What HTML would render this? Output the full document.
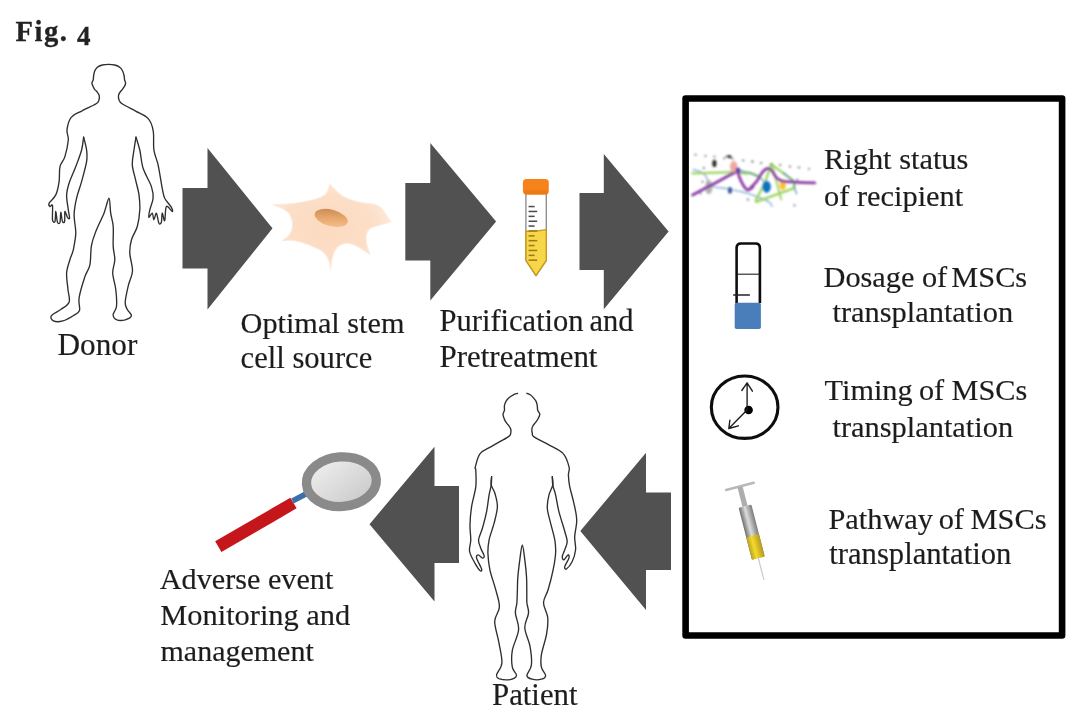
<!DOCTYPE html>
<html lang="en">
<head>
<meta charset="utf-8">
<title>Fig. 4</title>
<style>
html,body{margin:0;padding:0;background:#fff;}
body{width:1080px;height:722px;overflow:hidden;font-family:"Liberation Serif","DejaVu Serif",serif;}
svg{display:block;}
</style>
</head>
<body>
<svg width="1080" height="722" viewBox="0 0 1080 722">
<defs>
<radialGradient id="cellg" cx="45%" cy="50%" r="58%"><stop offset="0" stop-color="#fcdabf"/><stop offset="0.65" stop-color="#fcdec7"/><stop offset="1" stop-color="#fde9da"/></radialGradient>
<linearGradient id="nucg" x1="0.2" y1="0" x2="0.7" y2="1"><stop offset="0" stop-color="#c88a52"/><stop offset="0.55" stop-color="#e8a86e"/><stop offset="1" stop-color="#f5bd8c"/></linearGradient>
<linearGradient id="lensg" x1="0" y1="0" x2="1" y2="1"><stop offset="0" stop-color="#f4f4f4"/><stop offset="1" stop-color="#c4c4c4"/></linearGradient>
<linearGradient id="barg" x1="0" y1="0" x2="1" y2="0"><stop offset="0" stop-color="#6e6e6e"/><stop offset="0.45" stop-color="#dcdcdc"/><stop offset="1" stop-color="#7a7a7a"/></linearGradient>
<linearGradient id="yelg" x1="0" y1="0" x2="1" y2="0"><stop offset="0" stop-color="#b9a225"/><stop offset="0.4" stop-color="#f6da2e"/><stop offset="1" stop-color="#b39a1e"/></linearGradient>
<filter id="soft2" x="-10%" y="-20%" width="120%" height="140%"><feGaussianBlur stdDeviation="0.8"/></filter>
<filter id="soft" x="-5%" y="-5%" width="110%" height="110%"><feGaussianBlur stdDeviation="0.75"/></filter>
</defs>
<rect width="1080" height="722" fill="#ffffff"/>
<g filter="url(#soft)">
<text x="15.6" y="41.2" font-family="'Liberation Serif', 'DejaVu Serif', serif" font-weight="700" font-size="28.6" letter-spacing="1.5" fill="#222" stroke="#222" stroke-width="0.3">Fig. <tspan dy="3.6" font-size="27">4</tspan></text>
<polygon fill="#515151" points="182.5,188 207.5,188 207.5,148 272.5,228.3 207.5,309.5 207.5,268.5 182.5,268.5"/>
<polygon fill="#515151" points="405.3,183 430.3,183 430.3,143 496.1,221.5 430.3,300.5 430.3,260.5 405.3,260.5"/>
<polygon fill="#515151" points="579.5,193 603.8,193 603.8,154 668.6,231.4 603.8,309.2 603.8,270 579.5,270"/>
<polygon fill="#515151" points="369.5,524.2 434.5,446.8 434.5,486 459,486 459,563 434.5,563 434.5,601.6"/>
<polygon fill="#515151" points="580.3,531 646,452.8 646,492.6 671,492.6 671,570 646,570 646,610"/>
<path fill="none" stroke="#2e2e2e" stroke-width="1.35" stroke-linejoin="round" stroke-linecap="round" d="M83.6 137.1C83.3 139.2 82.9 145.1 81.6 150.0C80.3 154.9 77.8 161.1 75.8 166.6C73.7 172.2 70.6 178.5 69.1 183.2C67.6 188.0 66.7 190.4 66.6 194.9C66.5 199.3 67.8 206.0 68.3 209.8C68.8 213.7 69.7 216.9 69.6 218.2C69.5 219.4 68.2 218.4 67.4 217.3C66.7 216.2 65.4 210.8 64.9 211.5C64.5 212.2 65.0 219.8 64.6 221.5C64.2 223.2 63.1 223.0 62.5 221.5C61.8 220.0 61.2 212.2 60.8 212.3C60.4 212.5 60.5 220.7 60.0 222.3C59.4 224.0 58.2 224.1 57.5 222.3C56.8 220.5 56.2 211.7 55.8 211.5C55.4 211.4 55.5 220.1 55.0 221.5C54.4 222.9 52.9 222.5 52.5 219.8C52.1 217.2 52.9 207.9 52.5 205.7C52.1 203.5 50.5 206.9 50.0 206.5C49.4 206.1 48.2 205.1 49.1 203.2C50.1 201.3 54.1 198.5 55.8 194.9C57.5 191.3 58.4 186.3 59.1 181.6C59.8 176.9 59.0 170.8 60.0 166.6C60.9 162.5 63.6 161.1 64.9 156.6C66.3 152.2 67.9 144.5 68.3 140.0C68.6 135.5 66.5 133.6 67.0 129.8C67.5 126.0 68.7 120.4 71.2 117.3C73.6 114.2 77.4 113.3 81.6 111.1C85.7 108.8 93.2 105.7 96.1 103.8C99.0 101.9 98.5 101.1 99.0 99.7C99.5 98.3 99.5 96.8 99.2 95.5C98.9 94.2 97.9 93.0 97.1 92.0C96.4 90.9 95.3 90.3 94.6 89.3C94.0 88.3 93.4 87.2 93.0 86.2C92.5 85.1 91.9 84.1 91.9 83.0C92.0 82.0 92.9 81.1 93.2 79.9C93.5 78.7 93.4 77.2 93.6 75.8C93.8 74.3 94.1 72.6 94.6 71.2C95.2 69.8 95.9 68.5 97.1 67.5C98.4 66.4 100.4 65.5 102.3 65.0C104.2 64.5 106.5 64.3 108.6 64.3C110.6 64.3 112.9 64.5 114.8 65.0C116.7 65.5 118.7 66.4 120.0 67.5C121.3 68.5 122.0 69.8 122.7 71.2C123.4 72.6 123.8 74.3 124.1 75.8C124.5 77.2 124.3 78.7 124.6 79.9C124.8 81.1 125.6 82.0 125.6 83.0C125.6 84.1 125.1 85.1 124.6 86.2C124.0 87.2 123.2 88.3 122.5 89.3C121.8 90.3 120.9 90.9 120.2 92.0C119.5 93.0 118.7 94.2 118.5 95.5C118.3 96.8 118.4 98.3 119.0 99.7C119.5 101.1 119.3 101.9 122.1 103.8C124.8 105.7 131.2 108.7 135.6 111.1C139.9 113.5 145.1 115.1 148.0 118.4C151.0 121.7 152.3 125.6 153.2 130.8C154.2 136.1 153.1 144.3 153.9 150.0C154.7 155.7 156.7 158.6 158.1 164.9C159.5 171.3 161.1 182.7 162.2 188.2C163.3 193.8 163.2 195.0 164.7 198.2C166.3 201.4 170.1 205.1 171.4 207.4C172.6 209.6 173.0 211.7 172.2 211.5C171.4 211.4 167.6 205.0 166.4 206.5C165.1 208.0 165.4 219.5 164.7 220.7C164.0 221.8 162.8 212.9 162.2 213.2C161.7 213.5 162.0 220.7 161.4 222.3C160.8 224.0 159.7 224.7 158.9 223.2C158.1 221.6 157.2 213.7 156.4 213.2C155.6 212.6 154.6 219.8 153.9 219.8C153.2 219.8 153.1 213.6 152.3 213.2C151.4 212.8 149.3 217.9 148.9 217.3C148.5 216.8 149.1 213.0 149.8 209.8C150.5 206.7 152.8 202.1 153.1 198.2C153.4 194.3 153.1 191.6 151.4 186.6C149.8 181.6 145.1 174.4 143.1 168.3C141.2 162.2 141.0 155.2 139.8 150.0C138.6 144.8 136.6 139.2 136.0 137.1"/>
<path fill="none" stroke="#2e2e2e" stroke-width="1.35" stroke-linejoin="round" stroke-linecap="round" d="M83.6 137.1C84.1 139.2 86.1 145.9 86.6 150.0C87.1 154.1 87.4 156.4 86.6 161.6C85.7 166.9 83.2 175.5 81.6 181.6C79.9 187.7 77.8 192.7 76.6 198.2C75.3 203.8 74.2 209.0 74.1 214.8C74.0 220.7 75.9 227.3 75.8 233.1C75.6 239.0 74.2 245.3 73.3 249.8C72.3 254.2 71.0 255.8 69.9 259.7C68.8 263.6 66.9 268.1 66.6 273.1C66.3 278.1 67.6 284.9 68.0 289.7C68.5 294.6 70.3 298.9 69.1 302.2C67.9 305.5 63.7 307.2 60.8 309.5C57.8 311.7 52.6 313.8 51.4 315.7C50.2 317.6 51.6 320.0 53.5 320.9C55.4 321.8 59.6 321.8 62.9 320.9C66.1 320.0 70.5 317.4 73.2 315.7C76.0 314.0 78.5 313.5 79.5 310.5C80.4 307.6 78.2 303.6 79.1 298.0C79.9 292.5 82.9 282.8 84.7 277.3C86.5 271.7 88.7 270.2 89.9 264.8C91.0 259.4 90.4 250.6 91.6 244.8C92.7 238.9 94.5 235.1 96.5 229.8C98.6 224.5 101.9 218.4 104.0 213.2C106.1 207.9 107.9 198.2 109.0 198.2C110.1 198.2 110.0 208.5 110.7 213.2C111.4 217.9 112.8 220.9 113.2 226.5C113.6 232.0 112.9 240.9 113.2 246.4C113.5 252.0 114.9 255.3 114.8 259.7C114.8 264.2 112.6 268.1 112.7 273.1C112.9 278.1 115.2 284.2 115.8 289.7C116.5 295.3 116.9 302.2 116.5 306.4C116.0 310.5 113.1 312.4 113.1 314.7C113.2 316.9 114.9 319.0 116.9 319.9C118.9 320.7 122.8 320.5 125.2 319.9C127.6 319.2 131.1 317.4 131.4 315.7C131.8 314.0 128.3 311.7 127.3 309.5C126.2 307.2 125.0 306.2 125.2 302.2C125.4 298.2 127.1 290.8 128.3 285.6C129.5 280.4 132.2 276.4 132.5 271.0C132.7 265.6 130.0 258.3 129.8 253.1C129.6 247.9 130.2 244.2 131.5 239.8C132.7 235.3 135.9 231.5 137.3 226.5C138.7 221.5 139.5 215.1 139.8 209.8C140.1 204.6 139.6 199.9 139.0 194.9C138.3 189.9 136.7 184.9 135.6 179.9C134.5 174.9 132.6 169.9 132.3 164.9C132.0 160.0 133.3 154.6 134.0 150.0C134.6 145.3 135.7 139.2 136.0 137.1"/>
<path fill="none" stroke="#2e2e2e" stroke-width="1.35" stroke-linejoin="round" stroke-linecap="round" d="M491.6 476.7C491.5 478.0 491.7 481.9 491.2 485.0C490.8 488.0 489.9 490.5 489.1 494.9C488.3 499.4 487.7 506.0 486.6 511.6C485.5 517.1 483.8 523.5 482.4 528.2C481.1 532.9 478.9 536.5 478.6 539.8C478.3 543.2 479.9 545.5 480.8 548.2C481.7 550.8 483.8 554.0 484.1 555.6C484.4 557.3 483.4 558.3 482.4 558.1C481.5 558.0 479.2 554.8 478.3 554.8C477.3 554.8 476.1 555.8 476.6 558.1C477.2 560.5 481.0 566.9 481.6 569.0C482.2 571.0 481.0 571.6 479.9 570.6C478.8 569.6 476.7 566.3 474.9 563.1C473.2 559.9 470.3 555.4 469.6 551.5C468.9 547.6 470.7 544.3 470.8 539.8C470.8 535.4 469.8 530.4 470.0 524.9C470.1 519.3 470.6 513.0 471.6 506.6C472.6 500.2 475.1 492.7 475.8 486.6C476.5 480.5 475.8 473.3 475.8 470.0C475.7 466.7 474.6 469.8 475.3 467.1C476.1 464.3 477.4 457.0 480.1 453.6C482.8 450.1 486.9 449.1 491.6 446.3C496.2 443.5 505.0 439.1 508.2 436.9C511.4 434.8 510.3 434.5 510.7 433.2C511.1 431.9 511.0 430.3 510.7 429.0C510.3 427.8 509.4 426.6 508.6 425.5C507.8 424.4 506.9 423.6 506.1 422.4C505.3 421.2 504.5 419.6 504.0 418.2C503.5 416.9 502.9 415.4 503.0 414.1C503.1 412.8 504.2 411.7 504.4 410.3C504.7 409.0 504.2 407.3 504.4 405.8C504.7 404.3 505.3 402.6 506.1 401.2C506.9 399.8 508.0 398.5 509.2 397.5C510.4 396.4 512.0 395.5 513.4 394.8C514.8 394.1 516.8 393.6 517.5 393.3"/>
<path fill="none" stroke="#2e2e2e" stroke-width="1.35" stroke-linejoin="round" stroke-linecap="round" d="M526.9 393.3C527.5 393.6 529.5 394.2 530.6 395.0C531.7 395.7 532.6 396.8 533.5 397.9C534.5 399.0 535.6 400.3 536.2 401.6C536.8 402.9 537.0 404.3 537.3 405.8C537.5 407.2 537.3 409.0 537.7 410.3C538.1 411.7 539.7 412.8 539.8 414.1C539.9 415.4 539.0 416.9 538.3 418.2C537.6 419.6 536.5 421.2 535.6 422.4C534.7 423.6 533.7 424.4 533.1 425.5C532.5 426.6 532.0 427.8 531.9 429.0C531.7 430.3 531.9 431.9 532.3 433.2C532.7 434.5 531.2 434.9 534.1 436.9C537.1 439.0 544.9 442.5 549.7 445.3C554.6 448.0 560.0 449.9 563.2 453.6C566.5 457.2 568.2 463.5 569.1 467.1C569.9 470.6 568.3 471.7 568.4 475.0C568.5 478.2 568.8 481.9 569.7 486.6C570.7 491.3 572.7 497.7 573.9 503.3C575.1 508.8 576.6 514.3 576.7 519.9C576.9 525.4 574.9 531.5 574.7 536.5C574.5 541.5 576.0 545.7 575.6 549.8C575.1 554.0 573.8 558.3 572.2 561.5C570.7 564.7 567.7 568.1 566.4 569.0C565.2 569.8 564.3 568.3 564.8 566.5C565.2 564.7 568.4 560.1 568.9 558.1C569.5 556.2 568.9 554.5 568.1 554.8C567.2 555.1 564.9 559.5 563.9 559.8C562.9 560.1 562.1 558.1 562.3 556.5C562.4 554.8 563.9 552.3 564.8 549.8C565.6 547.3 567.2 544.6 567.2 541.5C567.2 538.5 566.1 536.5 564.8 531.5C563.4 526.5 560.5 517.7 558.9 511.6C557.4 505.5 556.6 499.4 555.6 494.9C554.6 490.5 553.3 488.0 552.8 485.0C552.2 481.9 552.4 478.0 552.3 476.7"/>
<path fill="none" stroke="#2e2e2e" stroke-width="1.35" stroke-linejoin="round" stroke-linecap="round" d="M491.6 476.7C491.5 478.0 490.7 482.2 491.2 485.0C491.8 487.7 493.9 489.7 494.9 493.3C495.9 496.9 497.5 501.6 497.4 506.6C497.3 511.6 495.5 517.7 494.1 523.2C492.7 528.8 490.1 534.9 489.1 539.8C488.1 544.8 487.8 548.2 487.9 553.2C488.1 558.1 488.6 563.7 489.9 569.8C491.2 575.9 494.1 583.6 495.7 589.7C497.3 595.9 499.6 601.6 499.4 606.9C499.3 612.2 494.8 615.5 494.7 621.4C494.6 627.3 497.6 635.3 498.8 642.2C500.0 649.1 502.3 657.6 501.9 663.0C501.6 668.3 497.3 671.8 496.7 674.4C496.2 677.0 496.6 677.7 498.8 678.6C501.1 679.4 507.3 680.1 510.3 679.6C513.2 679.1 516.1 677.5 516.5 675.4C516.8 673.4 513.0 671.3 512.3 667.1C511.6 663.0 511.3 656.7 512.3 650.5C513.4 644.3 518.0 636.0 518.6 629.7C519.1 623.5 515.7 617.6 515.4 613.1C515.2 608.6 516.6 606.6 516.9 602.7C517.2 598.8 517.2 594.1 517.4 589.7C517.5 585.4 517.4 581.4 517.9 576.4C518.3 571.4 519.1 565.1 519.8 559.8C520.6 554.5 521.5 544.8 522.3 544.8C523.2 544.8 524.1 554.5 524.8 559.8C525.5 565.1 526.2 571.4 526.5 576.4C526.8 581.4 526.8 585.4 526.8 589.7C526.9 594.1 526.6 598.8 526.9 602.7C527.2 606.6 528.9 609.0 528.5 613.1C528.2 617.3 524.6 622.1 524.8 627.7C525.0 633.2 528.9 640.1 530.0 646.4C531.1 652.6 532.0 660.2 531.4 665.1C530.9 669.9 526.8 673.1 526.9 675.4C527.0 677.8 529.6 678.6 532.1 679.2C534.5 679.8 539.2 679.8 541.4 679.2C543.7 678.6 545.6 677.4 545.6 675.4C545.6 673.4 542.1 670.6 541.4 667.1C540.7 663.7 540.6 660.2 541.4 654.7C542.3 649.1 545.6 640.1 546.6 633.9C547.7 627.7 548.2 622.5 547.7 617.3C547.1 612.1 543.4 607.3 543.5 602.7C543.6 598.1 546.5 595.2 548.1 589.7C549.7 584.3 551.9 575.9 553.1 569.8C554.4 563.7 555.3 558.1 555.6 553.2C555.9 548.2 555.6 544.8 554.8 539.8C553.9 534.9 551.9 528.5 550.6 523.2C549.4 518.0 547.6 513.0 547.3 508.3C547.0 503.5 548.0 498.8 549.0 494.9C549.9 491.1 552.2 488.0 552.8 485.0C553.3 481.9 552.4 478.0 552.3 476.7"/>
<path fill="url(#cellg)" stroke="#fdeadc" stroke-width="1.2" stroke-linejoin="round" d="M273.0 204.8C276.5 204.6 286.9 204.3 294.1 203.4C301.2 202.4 310.6 200.6 315.9 199.0C321.3 197.4 323.8 196.3 326.1 193.9C328.4 191.5 329.1 186.0 329.7 184.5C330.6 185.3 332.5 187.5 334.8 189.5C337.1 191.6 339.7 194.8 343.6 196.8C347.4 198.9 352.8 200.6 358.1 201.9C363.4 203.2 371.4 203.5 375.6 204.8C379.7 206.2 380.9 207.9 382.8 209.9C384.8 212.0 385.9 215.2 387.2 217.2C388.5 219.1 390.2 220.8 390.8 221.6C389.3 222.0 384.9 223.2 381.4 224.5C377.9 225.7 372.3 226.9 369.7 228.8C367.2 230.8 366.6 233.4 366.1 236.1C365.6 238.8 366.2 241.8 366.8 244.8C367.4 247.9 369.3 252.7 369.7 254.3C368.0 253.2 363.0 249.6 359.6 247.7C356.2 245.9 352.5 243.9 349.4 243.4C346.2 242.9 343.1 243.6 340.6 244.8C338.2 246.0 336.3 248.2 334.8 250.6C333.4 253.1 332.6 256.2 331.9 259.4C331.2 262.5 330.7 267.9 330.5 269.6C330.2 268.1 330.2 263.7 329.0 260.8C327.8 257.9 326.6 254.8 323.2 252.1C319.8 249.4 313.5 246.8 308.6 244.8C303.8 242.9 298.5 241.2 294.1 240.5C289.7 239.7 284.4 240.5 282.5 240.5C283.7 239.5 288.0 237.3 289.7 234.6C291.4 232.0 292.6 227.9 292.6 224.5C292.6 221.1 291.4 216.9 289.7 214.3C288.0 211.6 285.2 210.0 282.5 208.5C279.7 206.9 274.6 205.4 273.0 204.8Z"/>
<ellipse cx="331.2" cy="217.9" rx="17" ry="8.2" fill="url(#nucg)" transform="rotate(15 331.2 217.9)"/>
<g>
<path d="M525.9 193 L525.9 260.3 L536 275.6 L546.3 260.3 L546.3 193 Z" fill="#ffffff" stroke="#8f8f8f" stroke-width="1.4" stroke-linejoin="round"/>
<path d="M525.9 231.2 Q536 231.6 546.3 229.6 L546.3 260.3 L536 275.6 L525.9 260.3 Z" fill="#f8d648" stroke="#c79a1c" stroke-width="1.4" stroke-linejoin="round"/>
<rect x="528.6" y="205.8" width="6.0" height="1.5" fill="#4a4a4a"/>
<rect x="528.6" y="210.7" width="8.6" height="1.5" fill="#4a4a4a"/>
<rect x="528.6" y="215.6" width="6.0" height="1.5" fill="#4a4a4a"/>
<rect x="528.6" y="220.5" width="8.6" height="1.5" fill="#4a4a4a"/>
<rect x="528.6" y="225.3" width="6.0" height="1.5" fill="#4a4a4a"/>
<rect x="528.6" y="230.2" width="8.6" height="1.5" fill="#9a7a16"/>
<rect x="528.6" y="235.1" width="6.0" height="1.5" fill="#9a7a16"/>
<rect x="528.6" y="239.9" width="8.6" height="1.5" fill="#9a7a16"/>
<rect x="528.6" y="244.8" width="6.0" height="1.5" fill="#9a7a16"/>
<rect x="528.6" y="249.7" width="8.6" height="1.5" fill="#9a7a16"/>
<rect x="528.6" y="254.6" width="6.0" height="1.5" fill="#9a7a16"/>
<rect x="528.6" y="259.4" width="8.6" height="1.5" fill="#9a7a16"/>
<rect x="522.9" y="178.9" width="25.9" height="15.6" rx="3.6" ry="3.6" fill="#f6821f"/>
<rect x="524" y="190.2" width="23.7" height="4.2" rx="2" fill="#ee7a18"/>
</g>
<line x1="218.3" y1="546.7" x2="293.5" y2="503" stroke="#c5151b" stroke-width="12.4"/>
<line x1="292.5" y1="501" x2="311" y2="491.3" stroke="#3c6fa9" stroke-width="5.6"/>
<ellipse cx="341.4" cy="481.7" rx="35" ry="24.8" fill="url(#lensg)" stroke="#8a8a8a" stroke-width="9.3" transform="rotate(-4 341.4 481.7)"/>
<rect x="685.6" y="98.5" width="376.5" height="537" fill="none" stroke="#000" stroke-width="6.6" stroke-linejoin="round"/>
<g filter="url(#soft2)">
<g fill="none" stroke-linecap="round" stroke-linejoin="round">
<path d="M693.0 169.6C694.2 170.0 698.3 170.6 700.5 171.7C702.6 172.8 704.6 174.7 705.9 176.3C707.1 177.9 707.2 179.9 708.0 181.3C708.7 182.6 709.2 183.6 710.4 184.6C711.7 185.5 712.2 186.3 715.4 187.1C718.6 187.8 724.4 188.2 729.6 189.1C734.7 190.1 742.8 192.1 746.2 192.9C749.6 193.7 748.0 193.4 750.0 194.1C752.0 194.8 755.1 195.7 758.3 197.0C761.5 198.4 766.8 200.5 769.1 202.0C771.4 203.6 771.5 205.5 772.0 206.2" stroke="#86add6" stroke-width="1.4"/>
<path d="M692.6 173.4 L734.6 172.1 L746.2 173.6 L750.0 172.9 L758.3 176.3" stroke="#9ad45c" stroke-width="2.4"/>
<path d="M771.2 164.2 L794.1 181.3 L794.1 188.1 L756.2 201.9 L755.7 200.2 L765.0 182.9 L771.2 164.2" stroke="#9ad45c" stroke-width="2.3"/>
<path d="M772.4 166.3 L781.2 199.5" stroke="#9ad45c" stroke-width="1.9"/>
<path d="M737.9 169.8C739.3 170.2 744.2 171.6 746.2 172.1C748.2 172.6 748.0 172.2 750.0 172.9C752.0 173.6 756.1 174.9 758.3 176.3C760.5 177.6 762.5 180.1 763.3 180.8" stroke="#4f8f9e" stroke-width="1.2"/>
<path d="M783.3 172.5C784.5 173.6 788.9 177.0 790.7 178.8C792.6 180.5 793.8 181.4 794.5 182.9C795.1 184.4 794.1 186.1 794.5 187.9C794.8 189.7 796.2 192.7 796.6 193.7" stroke="#4f8f9e" stroke-width="1.2"/>
<ellipse cx="708.8" cy="187.1" rx="3.6" ry="7.2" fill="#ababab" opacity="0.9" stroke="none"/>
<ellipse cx="782.8" cy="184.6" rx="3.2" ry="5.4" stroke="none" fill="#f9c12e"/>
<path d="M692.6 195.0C696.4 193.0 708.0 186.8 715.4 182.9C722.8 179.0 733.2 172.9 737.0 171.7C740.9 170.4 738.0 173.8 738.7 175.4C739.4 177.0 740.2 179.3 741.2 181.3C742.2 183.2 743.4 185.6 744.5 187.1C745.6 188.5 746.5 190.0 747.9 190.0C749.2 190.0 752.5 187.3 752.8 187.1C753.2 186.9 749.4 189.7 750.0 188.7C750.6 187.8 754.6 184.0 756.7 181.3C758.7 178.5 760.9 174.1 762.5 172.1C764.0 170.1 764.8 169.8 765.8 169.2C766.8 168.6 767.6 168.0 768.7 168.4C769.8 168.7 771.1 169.7 772.4 171.3C773.8 172.9 774.8 176.3 776.6 177.9C778.4 179.6 780.2 180.6 783.3 181.3C786.3 181.9 789.6 181.8 794.9 182.1C800.2 182.4 811.5 182.8 814.8 182.9" stroke="#8b3aa4" stroke-width="2.8"/>
</g>
<ellipse cx="714.4" cy="163.4" rx="2.1" ry="3.7" fill="#2b2b1a"/>
<ellipse cx="733.7" cy="166.7" rx="3.7" ry="5.8" fill="#efa9a2"/>
<circle cx="737.9" cy="169.8" r="2.4" fill="#5a3fb2"/>
<ellipse cx="730.0" cy="190.4" rx="2.1" ry="3.3" fill="#3a589c"/>
<ellipse cx="766.6" cy="186.7" rx="4.2" ry="6" fill="#0a71c2"/>
<path d="M723.7 158.8 L727.1 156.1 L733.3 159.2" fill="none" stroke="#1a1a1a" stroke-width="0.9" stroke-linecap="round"/>
<ellipse cx="729.4" cy="156.5" rx="2.3" ry="1.2" fill="#111" transform="rotate(12 729.4 156.5)"/>
<circle cx="695.5" cy="154.7" r="0.9" fill="#505050"/>
<circle cx="705.5" cy="155.9" r="0.9" fill="#505050"/>
<circle cx="714.4" cy="156.7" r="0.9" fill="#505050"/>
<circle cx="743.3" cy="160.5" r="0.9" fill="#505050"/>
<circle cx="752.4" cy="161.3" r="0.9" fill="#505050"/>
<circle cx="703.8" cy="168.0" r="0.9" fill="#505050"/>
<circle cx="702.5" cy="181.7" r="0.9" fill="#505050"/>
<circle cx="700.5" cy="193.3" r="0.9" fill="#505050"/>
<circle cx="747.9" cy="199.5" r="0.9" fill="#505050"/>
<circle cx="752.5" cy="161.7" r="0.9" fill="#505050"/>
<circle cx="761.2" cy="163.0" r="0.9" fill="#505050"/>
<circle cx="771.4" cy="164.0" r="0.9" fill="#505050"/>
<circle cx="780.3" cy="165.0" r="0.9" fill="#505050"/>
<circle cx="789.9" cy="166.5" r="0.9" fill="#505050"/>
<circle cx="799.0" cy="167.5" r="0.9" fill="#505050"/>
<circle cx="809.0" cy="168.8" r="0.9" fill="#505050"/>
<circle cx="797.4" cy="179.6" r="0.9" fill="#505050"/>
<circle cx="794.5" cy="205.4" r="0.9" fill="#505050"/>
</g>
<path d="M736.6 303 L736.6 248 Q736.6 243.5 741.1 243.5 L755.4 243.5 Q759.9 243.5 759.9 248 L759.9 303" fill="none" stroke="#0a0a0a" stroke-width="2.6"/>
<rect x="734.7" y="302.8" width="26.2" height="26.2" rx="1.8" fill="#4a7ebb"/>
<line x1="737" y1="274.2" x2="760" y2="274.2" stroke="#222" stroke-width="1.1"/>
<line x1="733.2" y1="295" x2="749.9" y2="295" stroke="#222" stroke-width="1.5"/>
<ellipse cx="744.65" cy="407.2" rx="33.3" ry="31.2" fill="none" stroke="#111" stroke-width="3.1"/>
<circle cx="748.6" cy="410" r="4.3" fill="#000"/>
<g fill="none" stroke="#1a1a1a" stroke-width="1.35" stroke-linecap="round" stroke-linejoin="round">
<path d="M747.1 410 L747.1 382.8 M741.8 390.5 L747.1 382.8 L752.4 391.2"/>
<path d="M747.3 409.8 L728.8 428.5 M729.9 420.2 L728.8 428.5 L738.4 425.8"/>
</g>
<g transform="translate(745 506.2) rotate(-14.4)">
<rect x="-15.5" y="-21.8" width="31" height="2.6" rx="1.2" fill="#b9b9b9"/>
<rect x="-2.6" y="-20" width="5.2" height="20.5" fill="#adadad"/>
<rect x="-6.6" y="0" width="13.2" height="53.6" rx="1" fill="url(#barg)"/>
<rect x="-6.6" y="30.5" width="13.2" height="23.1" rx="1" fill="url(#yelg)"/>
<line x1="0" y1="53.6" x2="0" y2="76" stroke="#c9c9c9" stroke-width="1.2"/>
</g>
<text x="57.6" y="355.2" font-family="'Liberation Serif', 'DejaVu Serif', serif" font-size="31.20" fill="#1e1e1e" stroke="#1e1e1e" stroke-width="0.18">Donor</text>
<text x="240.6" y="333.0" font-family="'Liberation Serif', 'DejaVu Serif', serif" font-size="30.25" fill="#1e1e1e" stroke="#1e1e1e" stroke-width="0.18">Optimal stem</text>
<text x="240.6" y="368.1" font-family="'Liberation Serif', 'DejaVu Serif', serif" font-size="30.60" fill="#1e1e1e" stroke="#1e1e1e" stroke-width="0.18">cell source</text>
<text x="439.6" y="331.4" font-family="'Liberation Serif', 'DejaVu Serif', serif" font-size="30.50" fill="#1e1e1e" stroke="#1e1e1e" stroke-width="0.18">Purification <tspan dx="-1.8">and</tspan></text>
<text x="439.6" y="367.3" font-family="'Liberation Serif', 'DejaVu Serif', serif" font-size="30.90" fill="#1e1e1e" stroke="#1e1e1e" stroke-width="0.18">Pretreatment</text>
<text x="824.0" y="169.3" font-family="'Liberation Serif', 'DejaVu Serif', serif" font-size="30.40" fill="#1e1e1e" stroke="#1e1e1e" stroke-width="0.18">Right status</text>
<text x="824.0" y="206.2" font-family="'Liberation Serif', 'DejaVu Serif', serif" font-size="30.40" fill="#1e1e1e" stroke="#1e1e1e" stroke-width="0.18">of recipient</text>
<text x="823.5" y="287.0" font-family="'Liberation Serif', 'DejaVu Serif', serif" font-size="30.30" fill="#1e1e1e" stroke="#1e1e1e" stroke-width="0.18">Dosage of <tspan dx="-3.4">MSCs</tspan></text>
<text x="832.5" y="321.9" font-family="'Liberation Serif', 'DejaVu Serif', serif" font-size="30.40" fill="#1e1e1e" stroke="#1e1e1e" stroke-width="0.18">transplantation</text>
<text x="824.6" y="400.1" font-family="'Liberation Serif', 'DejaVu Serif', serif" font-size="30.25" fill="#1e1e1e" stroke="#1e1e1e" stroke-width="0.18">Timing <tspan dx="-1.2">of</tspan> <tspan dx="-0.2">MSCs</tspan></text>
<text x="832.5" y="437.1" font-family="'Liberation Serif', 'DejaVu Serif', serif" font-size="30.40" fill="#1e1e1e" stroke="#1e1e1e" stroke-width="0.18">transplantation</text>
<text x="828.4" y="529.3" font-family="'Liberation Serif', 'DejaVu Serif', serif" font-size="30.40" fill="#1e1e1e" stroke="#1e1e1e" stroke-width="0.18">Pathway <tspan dx="-2">of</tspan> <tspan dx="-1">MSCs</tspan></text>
<text x="829.3" y="563.6" font-family="'Liberation Serif', 'DejaVu Serif', serif" font-size="30.65" fill="#1e1e1e" stroke="#1e1e1e" stroke-width="0.18">transplantation</text>
<text x="159.8" y="588.7" font-family="'Liberation Serif', 'DejaVu Serif', serif" font-size="30.20" fill="#1e1e1e" stroke="#1e1e1e" stroke-width="0.18">Adverse event</text>
<text x="160.3" y="624.8" font-family="'Liberation Serif', 'DejaVu Serif', serif" font-size="30.40" fill="#1e1e1e" stroke="#1e1e1e" stroke-width="0.18">Monitoring and</text>
<text x="160.5" y="660.9" font-family="'Liberation Serif', 'DejaVu Serif', serif" font-size="30.00" fill="#1e1e1e" stroke="#1e1e1e" stroke-width="0.18">management</text>
<text x="492.0" y="704.8" font-family="'Liberation Serif', 'DejaVu Serif', serif" font-size="30.80" fill="#1e1e1e" stroke="#1e1e1e" stroke-width="0.18">Patient</text>
</g>
</svg>
</body>
</html>
